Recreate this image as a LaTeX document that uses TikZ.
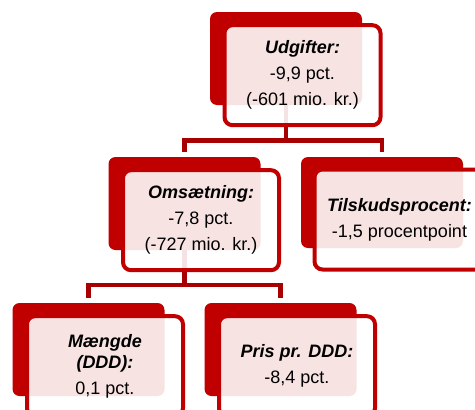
\documentclass[tikz,border=0pt]{standalone}
\usepackage{fontspec}
\setmainfont{Liberation Sans}
\usetikzlibrary{calc}
\definecolor{boxred}{HTML}{C00000}
\definecolor{connred}{HTML}{A80000}
\begin{document}
\begin{tikzpicture}[x=1pt,y=-1pt,
  backbox/.style={rectangle, fill=boxred, rounded corners=7pt, minimum width=152pt, minimum height=93pt, inner sep=0pt},
  frontbox/.style={rectangle, draw=boxred, line width=4pt, fill=white, fill opacity=0.89, text opacity=1, rounded corners=8pt, minimum width=156pt, minimum height=100pt, inner sep=0pt, align=center, font=\fontsize{18}{20.7}\selectfont},
  conn/.style={draw=connred, line width=4.5pt}]
\useasboundingbox (0,0) rectangle (475,410);
% back boxes
\node[backbox] (bu) at (286,58.5) {};
\node[backbox] (bo) at (184.5,203.5) {};
\node[backbox, minimum width=162pt, minimum height=91pt] (bt) at (382,202.5) {};
\node[backbox] (bm) at (88.5,349.5) {};
\node[backbox] (bp) at (280.5,349.5) {};
% connectors
\coordinate (bar1) at (286,140.5);
\coordinate (bar2) at (184.5,285);
\draw[conn] (bu.south) -- (bar1) -| ($(bo.north)+(0,-5)$);
\draw[conn] (bar1) -| ($(bt.north)+(0,-5)$);
\draw[conn] (bo.south) -- (bar2) -| ($(bm.north)+(0,-5)$);
\draw[conn] (bar2) -| ($(bp.north)+(0,-5)$);
% front boxes
\node[frontbox] (fu) at (302.5,75.2) {\textbf{\textit{Udgifter:}}\\[5.3pt] -9,9 pct.\\[5.3pt] (-601 mio. kr.)};
\node[frontbox] (fo) at (201,220.2) {\textbf{\textit{Omsætning:}}\\[5.3pt] -7,8 pct.\\[5.3pt] (-727 mio. kr.)};
\node[frontbox, minimum width=170pt] (ft) at (399.5,219.5) {\textbf{\textit{Tilskudsprocent:}}\\[5.3pt] -1,5 procentpoint};
\node[frontbox] (fm) at (105,366.2) {\textbf{\textit{Mængde}}\\ \textbf{\textit{(DDD):}}\\[5.3pt] 0,1 pct.};
\node[frontbox] (fp) at (297,366.2) {\textbf{\textit{Pris pr. DDD:}}\\[5.3pt] -8,4 pct.};
\end{tikzpicture}
\end{document}
